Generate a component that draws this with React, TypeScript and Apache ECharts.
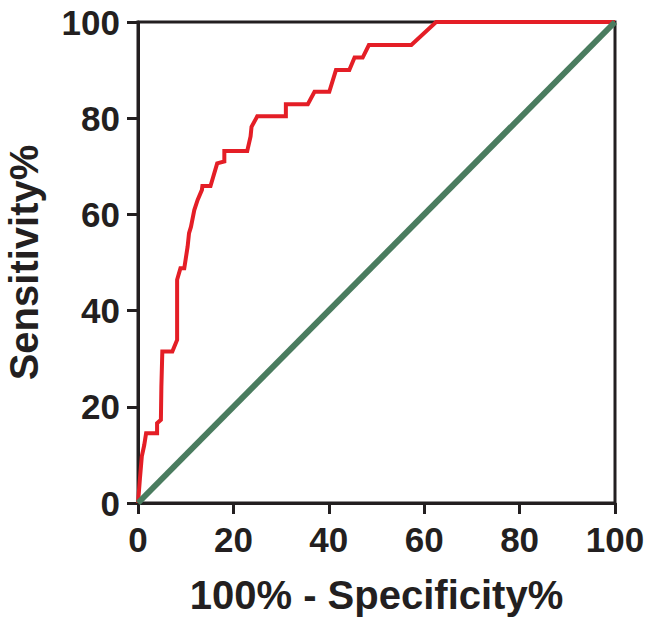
import React, { useEffect, useRef } from "react";
import * as echarts from "echarts";

// ROC curve (100% - Specificity%, Sensitivity%)
const rocX = [0, 0.4, 0.8, 1.3, 1.7, 4.0, 4.0, 4.8, 4.9, 5.1, 7.2, 8.2, 8.2, 8.9, 9.7, 10.4, 10.7, 11.1, 11.8, 12.5, 13.4, 13.5, 15.2, 16.6, 18.1, 18.1, 22.9, 23.6, 23.8, 25.0, 31.0, 31.0, 35.6, 37.0, 40.1, 41.5, 44.3, 45.4, 47.1, 48.4, 57.3, 62.5, 100];
const rocY = [0, 5, 9.7, 12, 14.5, 14.5, 16.6, 17.3, 24.2, 31.5, 31.5, 33.9, 46.4, 48.8, 48.8, 53.3, 56.1, 57.4, 60.9, 63, 65.1, 65.9, 65.9, 70.6, 71, 73.2, 73.2, 76.2, 78.2, 80.4, 80.4, 82.9, 82.9, 85.5, 85.5, 90, 90, 92.6, 92.6, 95.2, 95.2, 100, 100];
// Reference line
const refX = [0, 100];
const refY = [0, 100];
const tickValues = [0, 20, 40, 60, 80, 100];

const INK = "#231f20";
const FONT = "'Liberation Sans', Arial, Helvetica, sans-serif";

export default function App() {
  const ref = useRef<HTMLDivElement>(null);
  useEffect(() => {
    if (!ref.current) return;
    const chart = echarts.init(ref.current, undefined, { renderer: "svg" });
    const axisCommon = {
      type: "value" as const,
      min: 0,
      max: 100,
      interval: 20,
      splitLine: { show: false },
      axisLine: { show: true, lineStyle: { color: INK, width: 3 } },
      axisTick: { show: true, length: 11, lineStyle: { color: INK, width: 3 } },
      nameLocation: "middle" as const,
      nameTextStyle: { fontFamily: FONT, fontWeight: "bold" as const, fontSize: 40, color: INK },
    };
    chart.setOption({
      animation: false,
      backgroundColor: "#ffffff",
      grid: {
        left: 138,
        right: 38,
        top: 22,
        bottom: 122,
        show: true,
        borderColor: INK,
        borderWidth: 3,
        containLabel: false,
        outerBoundsMode: "none",
      },
      xAxis: {
        ...axisCommon,
        name: "100% - Specificity%",
        nameGap: 72,
        axisLabel: {
          fontFamily: FONT,
          fontWeight: "bold",
          fontSize: 35,
          color: INK,
          margin: 19,
          formatter: (v: number) => (tickValues.includes(v) ? String(v) : ""),
        },
      },
      yAxis: {
        ...axisCommon,
        name: "Sensitivity%",
        nameGap: 94,
        nameRotate: 90,
        axisLabel: {
          fontFamily: FONT,
          fontWeight: "bold",
          fontSize: 35,
          color: INK,
          margin: 18,
          formatter: (v: number) => (tickValues.includes(v) ? String(v) : ""),
        },
      },
      series: [
        {
          type: "line",
          data: rocX.map((x, i) => [x, rocY[i]]),
          showSymbol: false,
          symbol: "none",
          clip: false,
          lineStyle: { color: "#e41e26", width: 4, join: "miter" },
          z: 3,
        },
        {
          type: "line",
          data: refX.map((x, i) => [x, refY[i]]),
          showSymbol: false,
          symbol: "none",
          clip: false,
          lineStyle: { color: "#4a7c5f", width: 6 },
          z: 4,
        },
      ],
    });
    return () => chart.dispose();
  }, []);
  return (
    <div
      ref={ref}
      style={{ position: "fixed", left: 0, top: 0, width: 653, height: 625, background: "#fff" }}
    />
  );
}
